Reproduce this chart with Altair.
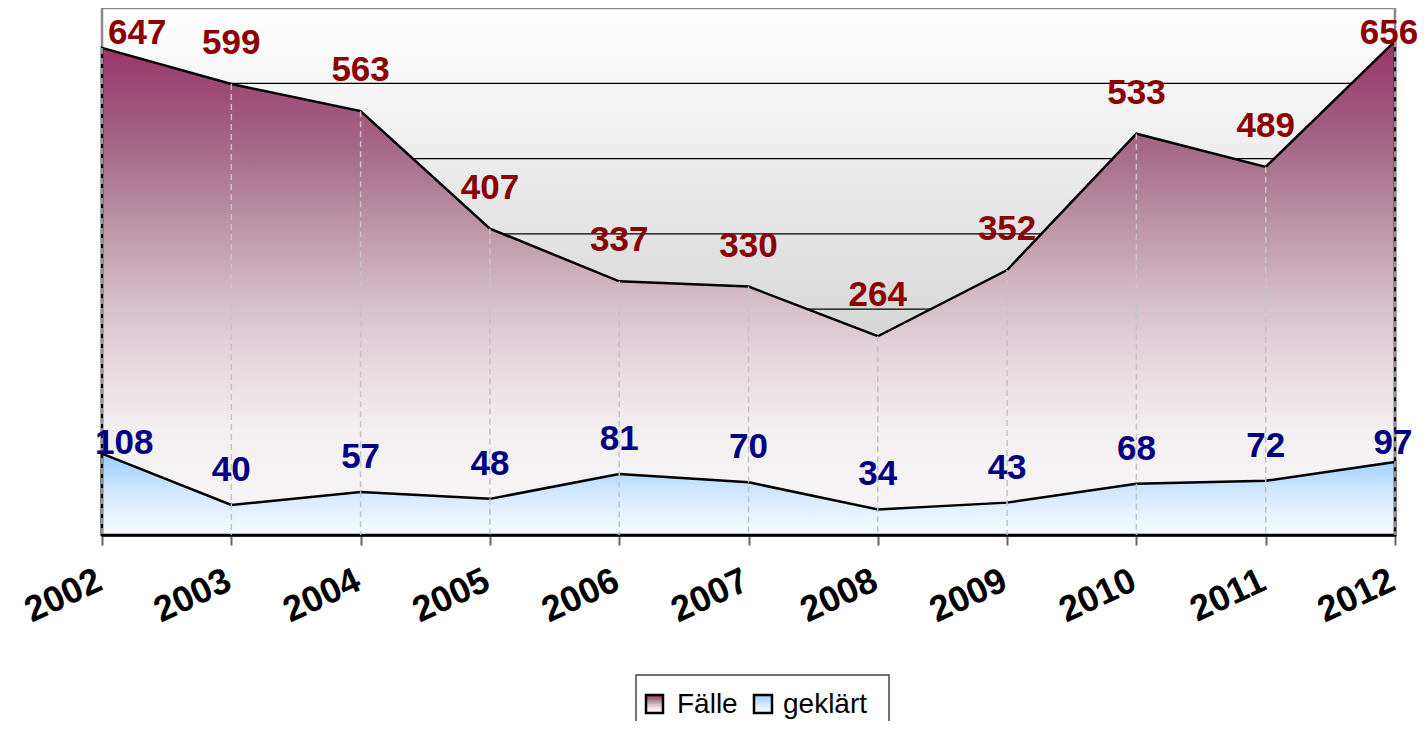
import altair as alt
import pandas as pd

# ---- data ----
years = [2002, 2003, 2004, 2005, 2006, 2007, 2008, 2009, 2010, 2011, 2012]
faelle = [647, 599, 563, 407, 337, 330, 264, 352, 533, 489, 656]
geklaert = [108, 40, 57, 48, 81, 70, 34, 43, 68, 72, 97]
grid_values = [100, 200, 300, 400, 500, 600]
series_names = ["Fälle", "geklärt"]

df = pd.DataFrame({"Jahr": years, "faelle": faelle, "geklaert": geklaert})
grid_df = pd.DataFrame({"g": grid_values})
one = pd.DataFrame({"a": [0]})

W, H = 1293, 527
FONT = "Liberation Sans"

maroon_grad = alt.Gradient(
    gradient="linear", x1=0, x2=0, y1=0, y2=1,
    stops=[
        alt.GradientStop(offset=0.0, color="#993366"),
        alt.GradientStop(offset=0.22, color="#a56a87"),
        alt.GradientStop(offset=0.38, color="#bd97a7"),
        alt.GradientStop(offset=0.52, color="#d4bcc6"),
        alt.GradientStop(offset=0.67, color="#e8dce1"),
        alt.GradientStop(offset=0.79, color="#f3eff1"),
        alt.GradientStop(offset=1.0, color="#f8f6f7"),
    ],
)
blue_grad = alt.Gradient(
    gradient="linear", x1=0, x2=0, y1=0, y2=1,
    stops=[
        alt.GradientStop(offset=0.0, color="#99ccff"),
        alt.GradientStop(offset=0.5, color="#d5e9ff"),
        alt.GradientStop(offset=1.0, color="#f8fbff"),
    ],
)
bg_grad = alt.Gradient(
    gradient="linear", x1=0, x2=0, y1=0, y2=1,
    stops=[
        alt.GradientStop(offset=0.0, color="#ffffff"),
        alt.GradientStop(offset=1.0, color="#bebebe"),
    ],
)

x_axis = alt.Axis(
    title=None, labelAngle=335, labelAlign="right", labelBaseline="top",
    labelFont=FONT, labelFontSize=36, labelFontWeight="bold", labelColor="#000000",
    labelOffset=-10, labelPadding=18, labelOverlap=False, labelFlush=False,
    domainColor="#000000", domainWidth=2.5,
    tickColor="#666666", tickWidth=2, tickSize=10, grid=False,
)
x_enc = alt.X("Jahr:O", scale=alt.Scale(type="point", padding=0), axis=x_axis)
y_scale = alt.Scale(domain=[0, 700])

background = alt.Chart(one).mark_rect(
    fill=bg_grad, stroke="#888888", strokeWidth=2.5
).encode(x=alt.value(0), x2=alt.value(W), y=alt.value(0), y2=alt.value(H))

gridlines = alt.Chart(grid_df).mark_rule(color="#000000", strokeWidth=1.2).encode(
    y=alt.Y("g:Q", scale=y_scale, axis=None)
)

base = alt.Chart(df)

area_f = base.mark_area(fill=maroon_grad, stroke="#000000", strokeWidth=2.5).encode(
    x=x_enc, y=alt.Y("faelle:Q", scale=y_scale, axis=None)
)
area_g = base.mark_area(fill=blue_grad, stroke="#000000", strokeWidth=2.5).encode(
    x=x_enc, y=alt.Y("geklaert:Q", scale=y_scale, axis=None)
)

drops = base.mark_rule(color="#c4c4c4", strokeDash=[6, 4], strokeWidth=1.5).encode(
    x=x_enc, y=alt.Y("faelle:Q", scale=y_scale, axis=None), y2=alt.datum(0)
)

label_f_style = dict(font=FONT, fontSize=35, fontWeight="bold", color="#8b0000")
label_g_style = dict(font=FONT, fontSize=35, fontWeight="bold", color="#000080")

lab_base = base.transform_calculate(ly="min(datum.faelle, 612)")
mid = "datum.Jahr != 2002 && datum.Jahr != 2012"

lab_f = lab_base.transform_filter(mid).mark_text(
    align="center", baseline="alphabetic", dy=-30, **label_f_style
).encode(x=x_enc, y=alt.Y("ly:Q", scale=y_scale, axis=None), text="faelle:Q")
lab_f0 = lab_base.transform_filter("datum.Jahr == 2002").mark_text(
    align="left", baseline="alphabetic", dx=6, dy=-30, **label_f_style
).encode(x=x_enc, y=alt.Y("ly:Q", scale=y_scale, axis=None), text="faelle:Q")
lab_f1 = lab_base.transform_filter("datum.Jahr == 2012").mark_text(
    align="center", baseline="alphabetic", dx=-6, dy=-30, **label_f_style
).encode(x=x_enc, y=alt.Y("ly:Q", scale=y_scale, axis=None), text="faelle:Q")

lab_g = base.transform_filter(mid).mark_text(
    align="center", baseline="alphabetic", dy=-24, **label_g_style
).encode(x=x_enc, y=alt.Y("geklaert:Q", scale=y_scale, axis=None), text="geklaert:Q")
lab_g0 = base.transform_filter("datum.Jahr == 2002").mark_text(
    align="left", baseline="alphabetic", dx=-7, dy=0, **label_g_style
).encode(x=x_enc, y=alt.Y("geklaert:Q", scale=y_scale, axis=None), text="geklaert:Q")
lab_g1 = base.transform_filter("datum.Jahr == 2012").mark_text(
    align="center", baseline="alphabetic", dx=-2, dy=-8, **label_g_style
).encode(x=x_enc, y=alt.Y("geklaert:Q", scale=y_scale, axis=None), text="geklaert:Q")

# ---- legend (drawn below the plot) ----
LX, LY = 534, 667
leg_box = alt.Chart(one).mark_rect(fill="#ffffff", stroke="#444444", strokeWidth=1.5).encode(
    x=alt.value(LX), x2=alt.value(LX + 253), y=alt.value(LY), y2=alt.value(LY + 90)
)
leg_sq1 = alt.Chart(one).mark_rect(fill=maroon_grad, stroke="#000000", strokeWidth=2.5).encode(
    x=alt.value(LX + 10), x2=alt.value(LX + 27), y=alt.value(LY + 20), y2=alt.value(LY + 38)
)
leg_sq2 = alt.Chart(one).mark_rect(fill=blue_grad, stroke="#000000", strokeWidth=2.5).encode(
    x=alt.value(LX + 118), x2=alt.value(LX + 136), y=alt.value(LY + 20), y2=alt.value(LY + 38)
)
leg_t1 = alt.Chart(one).mark_text(
    align="left", baseline="alphabetic", font=FONT, fontSize=28, color="#000000",
    text=series_names[0],
).encode(x=alt.value(LX + 41), y=alt.value(LY + 38))
leg_t2 = alt.Chart(one).mark_text(
    align="left", baseline="alphabetic", font=FONT, fontSize=28, color="#000000",
    text=series_names[1],
).encode(x=alt.value(LX + 147), y=alt.value(LY + 38))

chart = alt.layer(
    background, gridlines, area_f, area_g, drops,
    lab_f, lab_f0, lab_f1, lab_g, lab_g0, lab_g1,
    leg_box, leg_sq1, leg_sq2, leg_t1, leg_t2,
).properties(
    width=W, height=H,
    padding={"left": 94, "top": 0, "right": 22, "bottom": 186},
    autosize=alt.AutoSizeParams(type="none"),
).configure_view(stroke=None)

chart.save("out.html", embed_options={"renderer": "svg", "actions": False})
